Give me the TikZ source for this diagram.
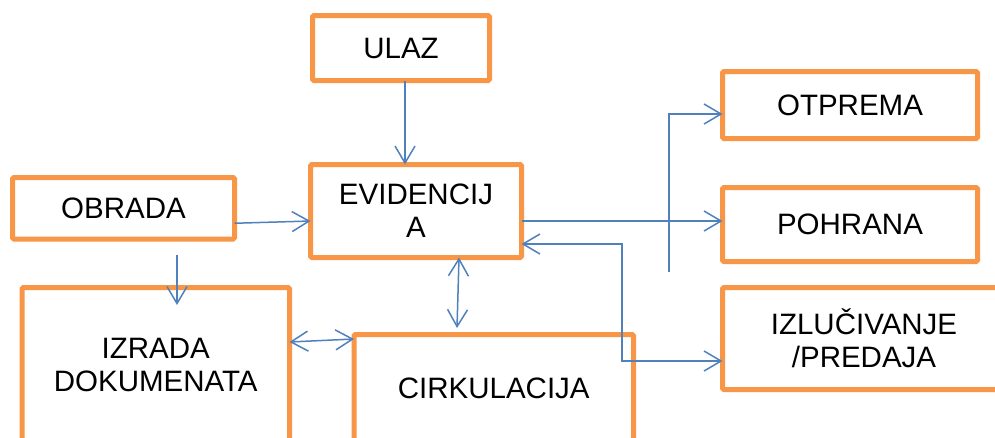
\documentclass[tikz,border=0pt]{standalone}
\usepackage{fontspec}
\setmainfont{Liberation Sans}
\usetikzlibrary{arrows.meta}
\definecolor{boxorange}{HTML}{F79646}
\definecolor{linkblue}{HTML}{4F81BD}

\begin{document}
\begin{tikzpicture}[x=1pt,y=-1pt,
  box/.style={draw=boxorange,line width=5pt,rounded corners=1.5pt,inner sep=0pt,outer sep=0pt,align=center,font=\fontsize{29.5}{33}\selectfont},
  link/.style={draw=linkblue,line width=1.5pt,-{Straight Barb[length=17pt,width=20pt]}},
  link2/.style={link,{Straight Barb[length=17pt,width=20pt]}-{Straight Barb[length=17pt,width=20pt]}}]
  \useasboundingbox[fill=white] (0,0) rectangle (995,437);
  \node[box,minimum width=177pt,minimum height=65pt] (ulaz) at (401,48) {ULAZ};
  \node[box,minimum width=222pt,minimum height=61.5pt] (obrada) at (123.5,208.25) {OBRADA};
  \node[box,minimum width=211pt,minimum height=93pt] (evid) at (416,211) {EVIDENCIJ\\A};
  \node[box,minimum width=255pt,minimum height=67pt] (otprema) at (850,105) {OTPREMA};
  \node[box,minimum width=255pt,minimum height=74pt] (pohrana) at (850,224.5) {POHRANA};
  \node[box,minimum width=283pt,minimum height=102pt] (izluc) at (864,338.5) {IZLUČIVANJE\\/PREDAJA};
  \node[box,minimum width=267.5pt,minimum height=155pt] (izrada) at (155.75,365) {IZRADA\\DOKUMENATA};
  \node[box,minimum width=279.5pt,minimum height=108pt] (cirk) at (493.75,388.5) {CIRKULACIJA};
  \coordinate (split) at (669,272);
  \draw[link] ([xshift=4pt]ulaz.south) -- ([xshift=-11pt]evid.north);
  \draw[link] ([yshift=-15pt]obrada.east) -- ([yshift=-10pt]evid.west);
  \draw[link] ([xshift=53.5pt,yshift=-16pt]obrada.south) -- ([xshift=21.25pt,yshift=-17.5pt]izrada.north);
  \draw[link2] ([xshift=43pt]evid.south) -- ([xshift=-36.75pt,yshift=6.5pt]cirk.north);
  \draw[link2] ([yshift=23pt]izrada.east) -- ([yshift=49.5pt]cirk.west);
  \draw[link] ([yshift=-10pt]evid.east) -- ([yshift=3.5pt]pohrana.west);
  \draw[link] (split) |- ([yshift=-9pt]otprema.west);
  \draw[link2] ([yshift=-33pt]evid.east) -- ++(100.5,0) |- ([yshift=-22.5pt]izluc.west);
\end{tikzpicture}
\end{document}
